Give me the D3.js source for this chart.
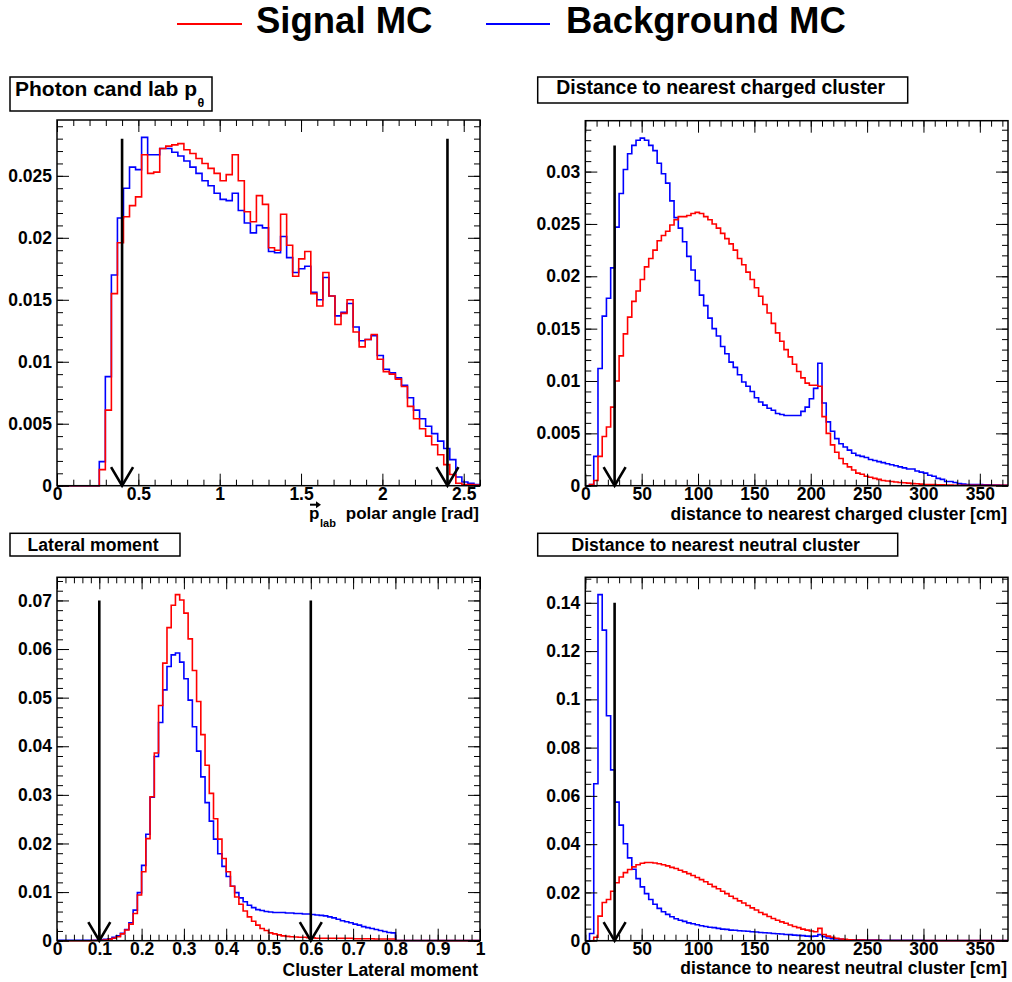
<!DOCTYPE html>
<html><head><meta charset="utf-8">
<script src="https://cdn.jsdelivr.net/npm/d3@7"></script>
<style>
body{margin:0;background:#fff}
svg{display:block}
text{font-family:'Liberation Sans',Arial,Helvetica,sans-serif;font-weight:bold;fill:#000}
</style>
</head><body>
<svg id="c" width="1012" height="982"></svg>
<script>
// ---------------- DATA ----------------
const legendLabels = ["Signal MC", "Background MC"];
const seriesColors = ["#ff0000", "#0000ff"];

// Panel 1: photon polar angle, 70 bins on [0, 2.6]
const thetaRange = [0, 2.6];
const thetaSignal = [0,0,0,0,0,0,0,
 0.0013,0.0061,0.0155,0.0196,0.0217,0.0226,0.0233,0.0267,0.0252,0.0253,
 0.0272,0.0274,0.0275,0.0276,0.0271,0.0268,0.0264,0.0260,0.0256,0.0252,
 0.0246,0.0251,0.0267,0.0246,0.0221,0.0213,0.0234,0.0227,0.0192,0.0190,
 0.0219,0.0194,0.0169,0.0183,0.0189,0.0155,0.0145,0.0172,0.0153,0.0130,
 0.0139,0.0150,0.0124,0.0112,0.0118,0.0122,0.0102,0.0092,0.0090,0.0086,
 0.0080,0.0064,0.0054,0.0046,0.0040,0.0033,0.0025,0.0017,0.0009,0.0002,
 0.0001,0.0001,0.00005];
const thetaBackground = [0,0,0,0,0,0,0,
 0.00194,0.0088,0.0170,0.0216,0.0240,0.0257,0.0255,0.0281,0.0267,0.0267,
 0.0272,0.0272,0.0269,0.0266,0.0262,0.0257,0.0252,0.0246,0.0242,0.0236,
 0.0231,0.0230,0.0236,0.0222,0.0212,0.0204,0.0210,0.0208,0.0189,0.0188,
 0.0201,0.0184,0.0172,0.0175,0.0177,0.0156,0.0150,0.0168,0.0153,0.0137,
 0.0140,0.0147,0.0128,0.0117,0.0118,0.0121,0.0105,0.0094,0.0091,0.0087,
 0.0081,0.0071,0.0061,0.0054,0.0048,0.0042,0.0036,0.0030,0.0021,0.0007,
 0.0003,0.0002,0.0001];
const thetaCuts = [0.4, 2.4];
const thetaCutTop = 0.028;
const thetaXTicks = [0.5, 0.1];     // major, minor step
const thetaYTicks = [0.005, 0.001];

// Panel 2: distance to nearest charged cluster, 100 bins on [0, 375]
const chargedRange = [0, 375];
const chargedSignal = [
 0,0.0001,0.0005,0.0028,0.0047,0.0056,0.0075,0.0100,0.0124,0.0145,
 0.0161,0.0176,0.0186,0.0197,0.0209,0.0217,0.0225,0.0234,0.0239,0.0243,
 0.0249,0.0254,0.0257,0.0257,0.0258,0.0260,0.0261,0.0260,0.0257,0.0254,
 0.0250,0.0246,0.0241,0.0236,0.0231,0.0225,0.0217,0.0211,0.0204,0.0197,
 0.0189,0.0181,0.0173,0.0165,0.0155,0.0146,0.0138,0.0130,0.0123,0.0116,
 0.0109,0.0103,0.0098,0.0096,0.0096,0.0095,0.0066,0.0050,0.0039,0.0032,
 0.0026,0.0021,0.0018,0.0015,0.0012,0.0011,0.0009,0.0008,0.0007,0.0006,
 0.0005,0.00045,0.0004,0.00035,0.0003,0.00028,0.00025,0.0002,0.00018,0.00015,
 0.00012,0.0001,0.0001,0.00009,0.00008,0.00007,0.00006,0.00005,0.00005,0.00004,
 0.00004,0.00003,0.00003,0.00003,0.00003,0.00003,0.00003,0.00003,0.00003,0.00003];
const chargedBackground = [
 0,0.0001,0.0028,0.0112,0.0162,0.0179,0.0208,0.0247,0.0279,0.0302,
 0.0317,0.0325,0.0330,0.0332,0.0330,0.0325,0.0320,0.0308,0.0298,0.0289,
 0.0272,0.0256,0.0246,0.0233,0.0219,0.0206,0.0196,0.0182,0.0172,0.0160,
 0.0150,0.0143,0.0133,0.0126,0.0118,0.0113,0.0106,0.0099,0.0095,0.0090,
 0.0084,0.0080,0.0077,0.0074,0.0072,0.0069,0.0068,0.0067,0.0067,0.0067,
 0.0067,0.0071,0.0075,0.0083,0.0093,0.0117,0.0079,0.0061,0.0052,0.0045,
 0.0040,0.0037,0.0034,0.0031,0.0029,0.0028,0.0027,0.0025,0.0024,0.0023,
 0.0022,0.0021,0.0020,0.0019,0.0018,0.0017,0.0016,0.0016,0.0014,0.0013,
 0.0012,0.0010,0.0009,0.0007,0.0006,0.0004,0.0004,0.0003,0.0002,0.00015,
 0.0001,0.0001,0.0001,0.0001,0.00008,0.00008,0.00006,0.00006,0.00005,0.00005];
const chargedCuts = [26];
const chargedCutTop = 0.0325;
const chargedXTicks = [50, 10];
const chargedYTicks = [0.005, 0.001];

// Panel 3: cluster lateral moment, 100 bins on [0, 1]
const lateralRange = [0, 1];
const lateralSignal = [
 0,0,0,0,0,0,0,0,0.00003,0.00005,
 0.0001,0.00015,0.0003,0.0005,0.0008,0.0014,0.0022,0.0034,0.0056,0.0094,
 0.0142,0.0210,0.0296,0.0386,0.0484,0.0571,0.0644,0.0690,0.0712,0.0701,
 0.0674,0.0621,0.0556,0.0492,0.0424,0.0361,0.0303,0.0251,0.0209,0.0169,
 0.0142,0.0112,0.0090,0.0075,0.0061,0.0049,0.0040,0.0032,0.0025,0.0021,
 0.0016,0.0014,0.0012,0.0010,0.0009,0.0008,0.00075,0.0007,0.0007,0.0006,
 0.0006,0.0005,0.0005,0.0005,0.0005,0.0005,0.0005,0.0005,0.0005,0.0005,
 0.0004,0.0004,0.0004,0.0004,0.0004,0.00035,0.00035,0.00035,0.00035,0.00035,
 0.00003,0.00003,0.00003,0.00003,0.00003,0.00003,0.00003,0.00003,0.00003,0.00003,
 0.00002,0.00002,0.00002,0.00002,0.00002,0.00002,0.00002,0.00002,0.00002,0.00002];
const lateralBackground = [
 0.0001,0.0001,0.0001,0.0001,0.0001,0.0001,0.0001,0.0001,0.0001,0.0001,
 0.0002,0.0003,0.0004,0.0007,0.0010,0.0015,0.0023,0.0037,0.0063,0.0099,
 0.0155,0.0219,0.0295,0.0379,0.0449,0.0516,0.0564,0.0588,0.0592,0.0573,
 0.0539,0.0495,0.0440,0.0390,0.0337,0.0284,0.0246,0.0209,0.0179,0.0153,
 0.0132,0.0112,0.0099,0.0088,0.0080,0.0073,0.0068,0.0064,0.0062,0.0060,
 0.0059,0.0058,0.0058,0.0058,0.0057,0.0057,0.0056,0.0056,0.0055,0.0055,
 0.0054,0.0053,0.0052,0.0051,0.0049,0.0047,0.0044,0.0041,0.0039,0.0037,
 0.0034,0.0032,0.0029,0.0027,0.0025,0.0023,0.0021,0.0019,0.0017,0.0016,
 0.00005,0.00005,0.00005,0.00005,0.00005,0.00005,0.00005,0.00005,0.00005,0.00005,
 0.00005,0.00005,0.00005,0.00005,0.00005,0.00005,0.00005,0.00005,0.00005,0.00005];
const lateralCuts = [0.1, 0.6];
const lateralCutTop = 0.07;
const lateralXTicks = [0.1, 0.02];
const lateralYTicks = [0.01, 0.002];

// Panel 4: distance to nearest neutral cluster, 100 bins on [0, 375]
const neutralRange = [0, 375];
const neutralSignal = [
 0,0,0.0014,0.0102,0.0158,0.0171,0.0205,0.0240,0.0264,0.0282,
 0.0295,0.0306,0.0315,0.0321,0.0324,0.0324,0.0322,0.0319,0.0315,0.0310,
 0.0304,0.0299,0.0292,0.0285,0.0278,0.0270,0.0262,0.0253,0.0244,0.0234,
 0.0224,0.0215,0.0205,0.0195,0.0184,0.0175,0.0165,0.0156,0.0146,0.0136,
 0.0127,0.0117,0.0109,0.0100,0.0092,0.0085,0.0078,0.0072,0.0065,0.0059,
 0.0054,0.0048,0.0044,0.0040,0.0037,0.0051,0.0026,0.0019,0.0014,0.0010,
 0.0007,0.0006,0.0004,0.0003,0.0003,0.0003,0.0002,0.0002,0.0002,0.0002,
 0.0001,0.0001,0.0001,0.0001,0.0001,0.0001,0.0001,0.0001,0.0001,0.0001,
 0.00005,0.00005,0.00005,0.00005,0.00005,0.00005,0.00005,0.00005,0.00005,0.00005,
 0.00005,0.00005,0.00005,0.00005,0.00005,0.00005,0.00005,0.00005,0.00005,0.00005];
const neutralBackground = [
 0,0.003,0.065,0.1434,0.1287,0.0932,0.0708,0.0574,0.0479,0.0402,
 0.0343,0.0296,0.0257,0.0223,0.0195,0.0171,0.0151,0.0134,0.0120,0.0109,
 0.0099,0.0091,0.0085,0.0080,0.0074,0.0070,0.0066,0.0062,0.0059,0.0056,
 0.0054,0.0051,0.0048,0.0047,0.0044,0.0043,0.0041,0.0040,0.0039,0.0037,
 0.0036,0.0034,0.0033,0.0032,0.0030,0.0029,0.0028,0.0026,0.0025,0.0023,
 0.0022,0.0021,0.0019,0.0018,0.0019,0.0025,0.0017,0.0011,0.0008,0.0007,
 0.0006,0.0004,0.0004,0.0004,0.0004,0.0004,0.0003,0.0003,0.0003,0.0003,
 0.0002,0.0002,0.0002,0.0002,0.0002,0.0002,0.0002,0.0002,0.0002,0.0002,
 0.0001,0.0001,0.0001,0.0001,0.0001,0.0001,0.0001,0.0001,0.0001,0.0001,
 0.0001,0.0001,0.0001,0.0001,0.0001,0.0001,0.0001,0.0001,0.0001,0.0001];
const neutralCuts = [26];
const neutralCutTop = 0.14;
const neutralXTicks = [50, 10];
const neutralYTicks = [0.02, 0.005];

const panelTitles = ["Photon cand lab p", "Distance to nearest charged cluster", "Lateral moment", "Distance to nearest neutral cluster"];
const axisTitles = ["polar angle [rad]", "distance to nearest charged cluster [cm]", "Cluster Lateral moment", "distance to nearest neutral cluster [cm]"];

// ---------------- LAYOUT ----------------
const svg = d3.select("#c");
const FONT_TICK = 17.5;

const panels = [
  {frame:{x0:57,x1:480,y0:120,y1:485.7}, range:thetaRange, sig:thetaSignal, bkg:thetaBackground,
   cuts:thetaCuts, cutTop:thetaCutTop, xt:thetaXTicks, yt:thetaYTicks,
   box:{x:10,y:77,w:202,h:34,fs:21,base:96}, axisTitleDy:33.5},
  {frame:{x0:585.3,x1:1008,y0:120.7,y1:485.7}, range:chargedRange, sig:chargedSignal, bkg:chargedBackground,
   cuts:chargedCuts, cutTop:chargedCutTop, xt:chargedXTicks, yt:chargedYTicks,
   box:{x:537.7,y:77,w:370,h:26,fs:19.4,base:94}, axisTitleDy:34},
  {frame:{x0:57,x1:480,y0:577.3,y1:940.7}, range:lateralRange, sig:lateralSignal, bkg:lateralBackground,
   cuts:lateralCuts, cutTop:lateralCutTop, xt:lateralXTicks, yt:lateralYTicks,
   box:{x:10,y:533.3,w:170,h:22.7,fs:17.6,base:550.7}, axisTitleDy:35},
  {frame:{x0:585.3,x1:1008,y0:577.3,y1:940.7}, range:neutralRange, sig:neutralSignal, bkg:neutralBackground,
   cuts:neutralCuts, cutTop:neutralCutTop, xt:neutralXTicks, yt:neutralYTicks,
   box:{x:537.7,y:533.3,w:360,h:22.7,fs:17.6,base:550.7}, axisTitleDy:33.5}
];

const stepVals = (a, b, s) => {
  const out = [];
  for (let i = Math.ceil(a / s - 1e-6); i * s <= b + 1e-9; i++) out.push(+(i * s).toFixed(8));
  return out;
};
const fmt = d3.format("~g");

panels.forEach((p, pi) => {
  const f = p.frame;
  const n = p.sig.length;
  const bw = (p.range[1] - p.range[0]) / n;
  const ymax = 1.05 * d3.max(p.sig.concat(p.bkg));
  const x = d3.scaleLinear().domain(p.range).range([f.x0, f.x1]);
  const y = d3.scaleLinear().domain([0, ymax]).range([f.y1, f.y0]);
  const g = svg.append("g");

  // histograms (background first, signal on top)
  const line = d3.line().x(d => x(d[0])).y(d => y(d[1]));
  [[p.bkg, seriesColors[1]], [p.sig, seriesColors[0]]].forEach(([vals, col]) => {
    const pts = [];
    vals.forEach((v, i) => {
      const lo = p.range[0] + i * bw, hi = lo + bw;
      pts.push([lo, v], [hi, v]);
    });
    g.append("path").attr("d", line(pts)).attr("fill", "none")
      .attr("stroke", col).attr("stroke-width", 1.6).attr("stroke-linejoin", "miter");
  });

  // cut arrows
  p.cuts.forEach(c => {
    const cx = x(c), top = y(p.cutTop), bot = y(0);
    g.append("line").attr("x1", cx).attr("x2", cx).attr("y1", top).attr("y2", bot)
      .attr("stroke", "#000").attr("stroke-width", 2.6);
    g.append("path").attr("d", `M${cx-11},${bot-18.5}L${cx},${bot}L${cx+11},${bot-18.5}`)
      .attr("fill", "none").attr("stroke", "#000").attr("stroke-width", 2.6);
  });

  // axes
  const xMaj = stepVals(p.range[0], p.range[1], p.xt[0]);
  const xMin = stepVals(p.range[0], p.range[1], p.xt[1]);
  const yMaj = stepVals(0, ymax, p.yt[0]);
  const yMin = stepVals(0, ymax, p.yt[1]);
  const ax = (gen, tr, vals, size, labels, pad) => {
    const a = g.append("g").attr("transform", tr)
      .call(gen.tickValues(vals).tickSizeInner(-size).tickSizeOuter(0).tickPadding(pad || 3)
        .tickFormat(labels ? fmt : ""));
    a.select(".domain").remove();
    a.attr("font-family", null).attr("font-size", null);
    a.selectAll("line").attr("stroke", "#000").attr("stroke-width", 1);
    a.selectAll("text").style("font-size", FONT_TICK + "px");
    return a;
  };
  ax(d3.axisBottom(x), `translate(0,${f.y1})`, xMin, 6, false);
  ax(d3.axisBottom(x), `translate(0,${f.y1})`, xMaj, 12, true, 2);
  ax(d3.axisTop(x), `translate(0,${f.y0})`, xMin, 6, false);
  ax(d3.axisTop(x), `translate(0,${f.y0})`, xMaj, 12, false);
  ax(d3.axisLeft(y), `translate(${f.x0},0)`, yMin, 6, false);
  ax(d3.axisLeft(y), `translate(${f.x0},0)`, yMaj, 12, true, 5);
  ax(d3.axisRight(y), `translate(${f.x1},0)`, yMin, 6, false);
  ax(d3.axisRight(y), `translate(${f.x1},0)`, yMaj, 12, false);

  // frame
  g.append("rect").attr("x", f.x0).attr("y", f.y0).attr("width", f.x1 - f.x0).attr("height", f.y1 - f.y0)
    .attr("fill", "none").attr("stroke", "#000").attr("stroke-width", 1.5);

  // title box
  const b = p.box;
  g.append("rect").attr("x", b.x).attr("y", b.y).attr("width", b.w).attr("height", b.h)
    .attr("fill", "#fff").attr("stroke", "#000").attr("stroke-width", 1.5);
  if (pi === 0) {
    g.append("text").attr("x", 15).attr("y", b.base).style("font-size", b.fs + "px").text(panelTitles[0]);
    g.append("text").attr("x", 197.5).attr("y", 107).style("font-size", "12.5px").text("θ");
  } else {
    g.append("text").attr("x", b.x + b.w / 2 - 2).attr("y", b.base).attr("text-anchor", "middle")
      .style("font-size", b.fs + "px").text(panelTitles[pi]);
  }

  // axis title
  const atFont = pi === 0 ? 17 : FONT_TICK;
  g.append("text").attr("x", f.x1 - (pi === 2 ? 2 : 1)).attr("y", f.y1 + p.axisTitleDy).attr("text-anchor", "end")
    .style("font-size", atFont + "px").text(axisTitles[pi]);
  if (pi === 0) {
    const by = f.y1 + p.axisTitleDy;
    g.append("text").attr("x", 309).attr("y", by).style("font-size", atFont + "px").text("p");
    g.append("line").attr("x1", 310).attr("x2", 317).attr("y1", by - 14.5).attr("y2", by - 14.5)
      .attr("stroke", "#000").attr("stroke-width", 2);
    g.append("path").attr("d", `M316,${by-18}L321,${by-14.5}L316,${by-11}Z`).attr("fill", "#000");
    g.append("text").attr("x", 320).attr("y", by + 8).style("font-size", "11px").text("lab");
  }
});

// legend
const leg = svg.append("g");
[[177, 242, 256], [486, 550, 566]].forEach((pos, i) => {
  leg.append("line").attr("x1", pos[0]).attr("x2", pos[1]).attr("y1", 24).attr("y2", 24)
    .attr("stroke", seriesColors[i]).attr("stroke-width", 2);
  leg.append("text").attr("x", pos[2]).attr("y", 33.3).style("font-size", "36.5px").text(legendLabels[i]);
});
</script>
</body></html>
